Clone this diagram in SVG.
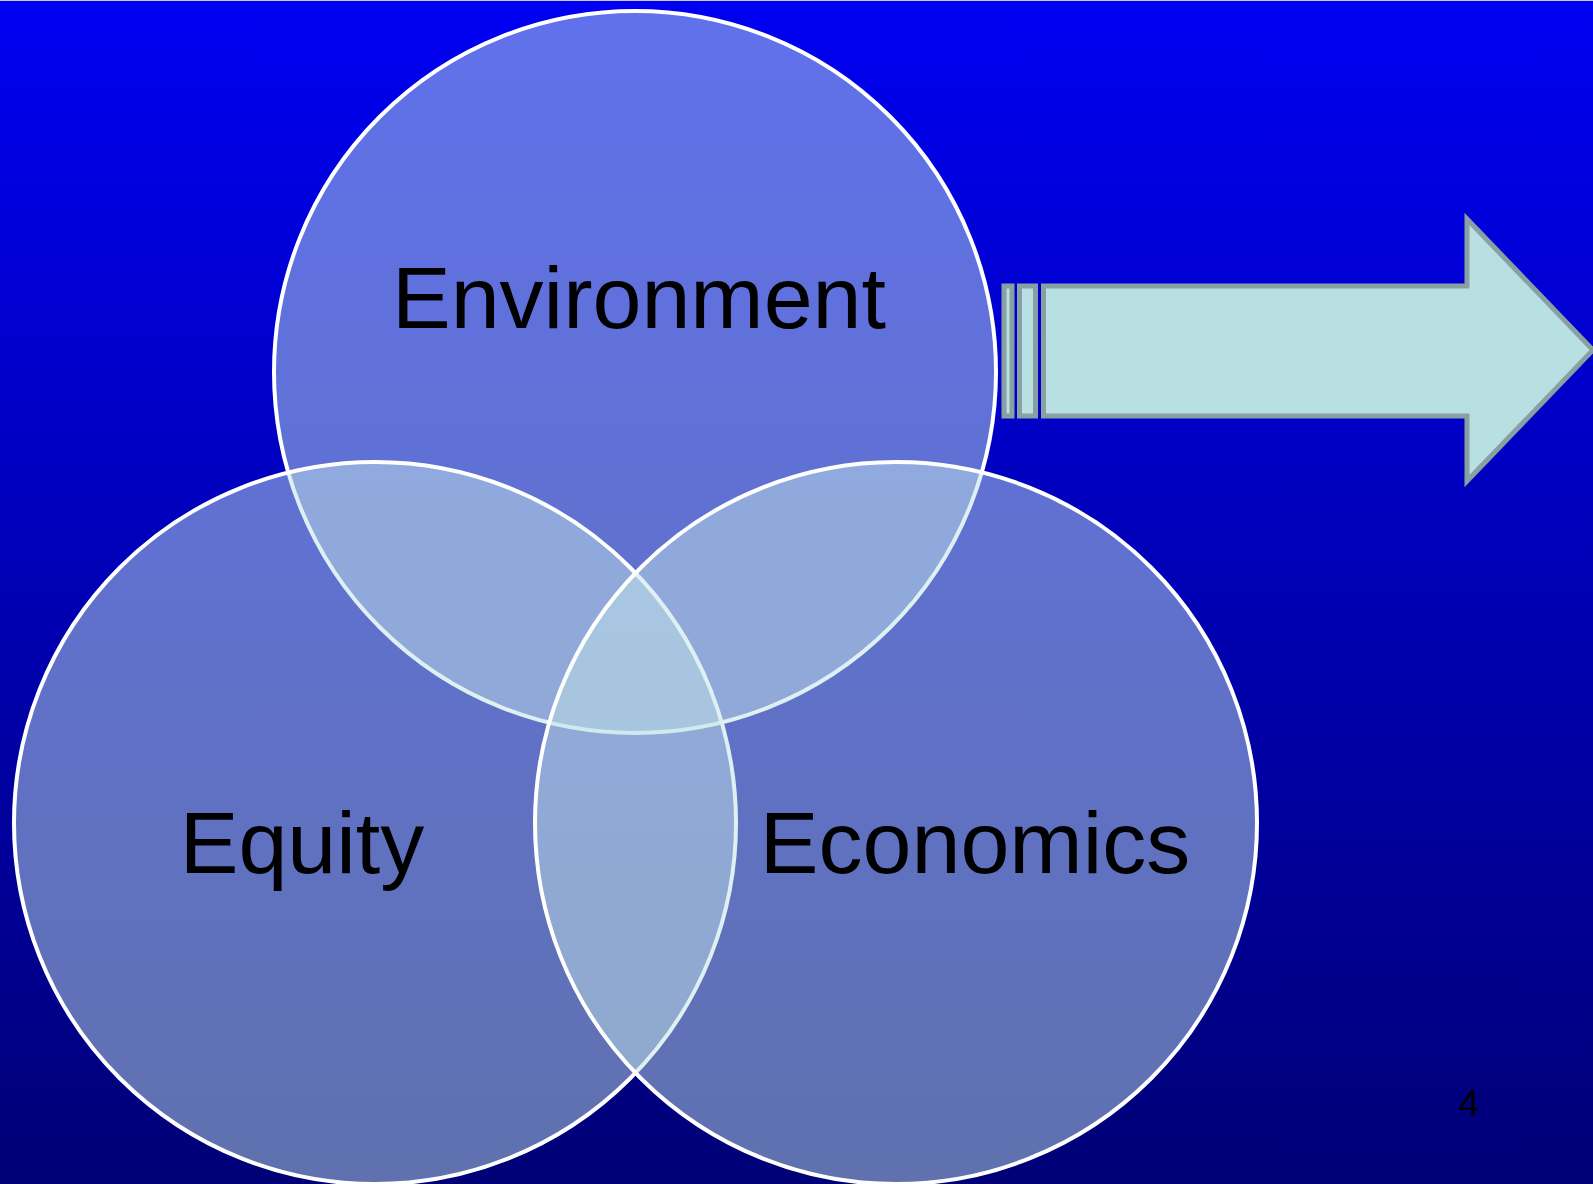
<svg xmlns="http://www.w3.org/2000/svg" width="1593" height="1184" viewBox="0 0 1593 1184">
  <defs>
    <linearGradient id="bg" x1="0" y1="0" x2="0" y2="1">
      <stop offset="0" stop-color="#0000F2"/>
      <stop offset="1" stop-color="#000076"/>
    </linearGradient>
    <style>
      .circ { fill: rgb(192,225,232); fill-opacity: 0.5; stroke: #FFFFFF; stroke-width: 4; }
      .lbl { font-family: "Liberation Sans", Arial, sans-serif; font-size: 88px; fill: #000000; text-anchor: middle; }
      .arr { fill: #B8DFE2; stroke: #88A0A2; stroke-width: 5; }
    </style>
  </defs>
  <rect x="0" y="0" width="1593" height="1184" fill="url(#bg)"/>
  <line x1="0" y1="0.5" x2="1593" y2="0.5" stroke="#C8C8E0" stroke-width="1"/>

  <g id="node-environment">
    <circle class="circ" cx="635" cy="372" r="361"/>
    <text class="lbl" x="639" y="328">Environment</text>
  </g>
  <g id="node-equity">
    <circle class="circ" cx="375" cy="823" r="361"/>
    <text class="lbl" x="302" y="873">Equity</text>
  </g>
  <g id="node-economics">
    <circle class="circ" cx="896" cy="823" r="361"/>
    <text class="lbl" x="975" y="873">Economics</text>
  </g>

  <g id="connectors">
    <rect class="arr" x="1004" y="286" width="8" height="130"/>
    <rect class="arr" x="1019.5" y="286" width="16" height="130"/>
    <polygon class="arr" points="1043.5,286 1467,286 1467,219 1593,350 1467,481 1467,416 1043.5,416"/>
  </g>

  <text x="1469" y="1116" font-family="Liberation Sans, Arial, sans-serif" font-size="37" fill="#000000" text-anchor="middle">4</text>
</svg>
